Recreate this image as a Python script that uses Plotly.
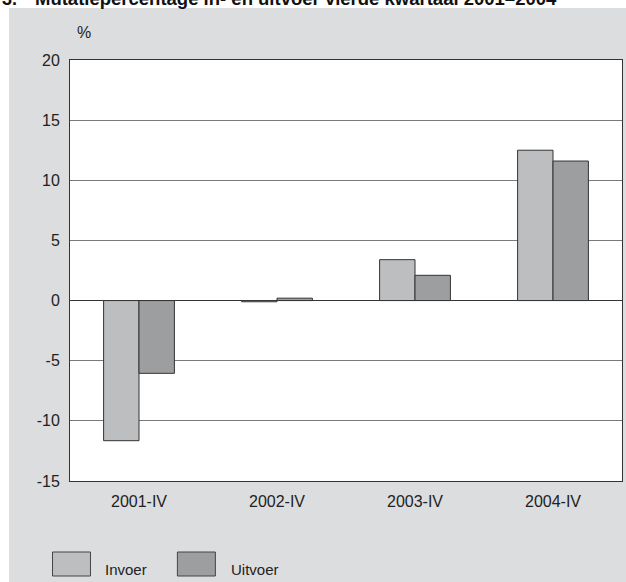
import plotly.graph_objects as go

categories = ["2001-IV", "2002-IV", "2003-IV", "2004-IV"]
series_names = ["Invoer", "Uitvoer"]
invoer = [-11.65, -0.1, 3.4, 12.5]
uitvoer = [-6.05, 0.2, 2.1, 11.6]
y_ticks = [20, 15, 10, 5, 0, -5, -10, -15]
title_number = "3."
title_text = "Mutatiepercentage in- en uitvoer vierde kwartaal 2001\u20132004"
unit_label = "%"

colors = ["#bdbec0", "#9d9ea0"]
W, H = 626, 582
L, R, T, B = 69.5, 4, 60, 101
pw, ph = W - L - R, H - T - B


def px(x):
    return (x - L) / pw


def py(y):
    return (H - B - y) / ph


FONT = "Liberation Sans, Arial, sans-serif"

fig = go.Figure()
for name, vals, col in zip(series_names, [invoer, uitvoer], colors):
    fig.add_trace(go.Bar(
        x=categories, y=vals, name=name,
        marker=dict(color=col, line=dict(color="#333333", width=1)),
        showlegend=False,
    ))

shapes = [
    # white strips outside gray panel
    dict(type="rect", xref="paper", yref="paper", x0=px(-5), x1=px(W + 5),
         y0=py(8), y1=py(-5), fillcolor="white", line=dict(width=0), layer="below"),
    dict(type="rect", xref="paper", yref="paper", x0=px(-5), x1=px(8.5),
         y0=py(H + 5), y1=py(-5), fillcolor="white", line=dict(width=0), layer="below"),
]

annotations = [
    dict(text="<b>" + title_number + "</b>", xref="paper", yref="paper",
         x=px(-1), y=py(11), xanchor="left", yanchor="bottom", showarrow=False,
         font=dict(family=FONT, size=18, color="#111111")),
    dict(text="<b>" + title_text + "</b>", xref="paper", yref="paper",
         x=px(32), y=py(11), xanchor="left", yanchor="bottom", showarrow=False,
         font=dict(family=FONT, size=18.5, color="#111111")),
    dict(text=unit_label, xref="paper", yref="paper", x=px(84), y=py(32),
         xanchor="center", yanchor="middle", showarrow=False,
         font=dict(family=FONT, size=16, color="#222222")),
]

# manual legend
legend_boxes = [(52, 90, 103), (177, 215, 229)]
for (bx0, bx1, tx), name, col in zip(legend_boxes, series_names, colors):
    shapes.append(dict(type="rect", xref="paper", yref="paper",
                       x0=px(bx0), x1=px(bx1), y0=py(576), y1=py(552),
                       fillcolor=col, line=dict(color="#444444", width=1)))
    annotations.append(dict(text=name, xref="paper", yref="paper",
                            x=px(tx), y=py(569), xanchor="left", yanchor="middle",
                            showarrow=False,
                            font=dict(family=FONT, size=15, color="#222222")))

fig.update_layout(
    width=W, height=H,
    margin=dict(l=L, r=R, t=T, b=B, pad=0),
    paper_bgcolor="#dcdddf",
    plot_bgcolor="white",
    barmode="group",
    bargap=0.487,
    bargroupgap=0,
    font=dict(family=FONT, size=16, color="#222222"),
    shapes=shapes,
    annotations=annotations,
    xaxis=dict(
        type="category", range=[-0.5, 3.5], showgrid=False,
        showline=True, linecolor="#333333", linewidth=1, mirror=True,
        ticks="", ticklabelstandoff=6, tickfont=dict(size=16, color="#222222"),
        fixedrange=True,
    ),
    yaxis=dict(
        range=[-15, 20], tickvals=y_ticks, ticktext=[str(v) for v in y_ticks],
        showgrid=True, gridcolor="#7a7a7a", gridwidth=1,
        zeroline=True, zerolinecolor="#333333", zerolinewidth=1,
        showline=True, linecolor="#333333", linewidth=1, mirror=True,
        ticks="", ticklabelstandoff=6, tickfont=dict(size=16, color="#222222"),
        fixedrange=True,
    ),
)

fig.write_html(
    "out.html",
    config={"displayModeBar": False},
    post_script="document.body.style.margin='0';document.body.style.overflow='hidden';",
)
